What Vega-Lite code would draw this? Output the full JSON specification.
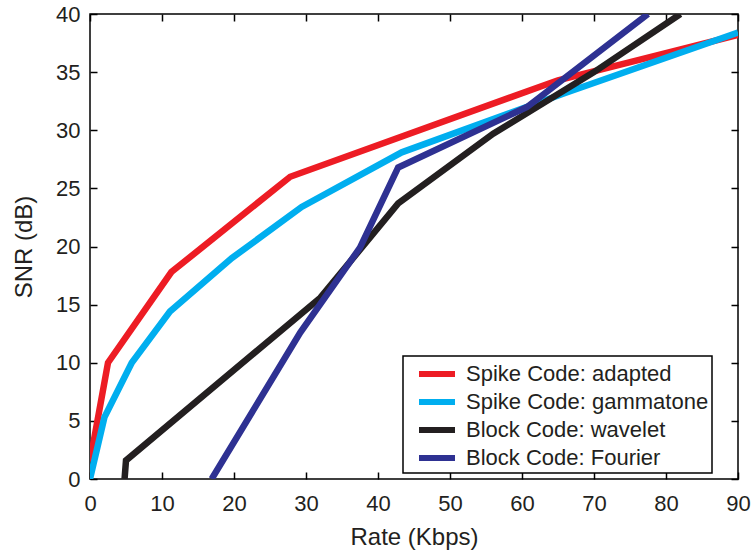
{
  "$schema": "https://vega.github.io/schema/vega-lite/v6.json",
  "width": 648,
  "height": 465,
  "autosize": "none",
  "padding": {"left": 90, "top": 14, "right": 17, "bottom": 75},
  "background": "white",
  "config": {
    "font": "Liberation Sans",
    "view": {"stroke": "black", "strokeWidth": 1.5},
    "axis": {"grid": false, "domain": false, "labelFont": "Liberation Sans", "titleFont": "Liberation Sans", "labelColor": "#231F20", "titleColor": "#231F20", "titleFontWeight": "normal", "tickColor": "black", "tickWidth": 1.5},
    "legend": {"strokeWidth": 1.5}
  },
  "data": {
    "values": [
      {"series": "Spike Code: adapted", "rate": 0, "snr": 1.5},
      {"series": "Spike Code: adapted", "rate": 2.5, "snr": 10},
      {"series": "Spike Code: adapted", "rate": 11.3, "snr": 17.8},
      {"series": "Spike Code: adapted", "rate": 27.8, "snr": 26},
      {"series": "Spike Code: adapted", "rate": 65, "snr": 34.3},
      {"series": "Spike Code: adapted", "rate": 90, "snr": 38.2},
      {"series": "Spike Code: gammatone", "rate": 0, "snr": 0},
      {"series": "Spike Code: gammatone", "rate": 2, "snr": 5.3},
      {"series": "Spike Code: gammatone", "rate": 5.8, "snr": 10},
      {"series": "Spike Code: gammatone", "rate": 11.1, "snr": 14.4},
      {"series": "Spike Code: gammatone", "rate": 19.7, "snr": 19},
      {"series": "Spike Code: gammatone", "rate": 29.4, "snr": 23.4},
      {"series": "Spike Code: gammatone", "rate": 43.3, "snr": 28.1},
      {"series": "Spike Code: gammatone", "rate": 66, "snr": 33.2},
      {"series": "Spike Code: gammatone", "rate": 90, "snr": 38.4},
      {"series": "Block Code: wavelet", "rate": 4.8, "snr": 0},
      {"series": "Block Code: wavelet", "rate": 5, "snr": 1.6},
      {"series": "Block Code: wavelet", "rate": 32, "snr": 15.6},
      {"series": "Block Code: wavelet", "rate": 42.8, "snr": 23.7},
      {"series": "Block Code: wavelet", "rate": 56, "snr": 29.7},
      {"series": "Block Code: wavelet", "rate": 70, "snr": 35},
      {"series": "Block Code: wavelet", "rate": 82, "snr": 40},
      {"series": "Block Code: Fourier", "rate": 16.9, "snr": 0},
      {"series": "Block Code: Fourier", "rate": 29.2, "snr": 12.6},
      {"series": "Block Code: Fourier", "rate": 37.5, "snr": 19.9},
      {"series": "Block Code: Fourier", "rate": 42.8, "snr": 26.8},
      {"series": "Block Code: Fourier", "rate": 60.7, "snr": 32},
      {"series": "Block Code: Fourier", "rate": 77.5, "snr": 40}
    ]
  },
  "layer": [
    {
      "mark": {"type": "line", "strokeWidth": 6.5, "strokeCap": "butt", "strokeJoin": "miter", "clip": true},
      "encoding": {
        "x": {"field": "rate", "type": "quantitative", "scale": {"domain": [0, 90], "nice": false},
          "axis": {"orient": "bottom", "title": "Rate (Kbps)", "values": [0,10,20,30,40,50,60,70,80,90], "ticks": true, "tickSize": -7, "tickColor": "black", "labelFontSize": 22, "titleFontSize": 24, "labelPadding": 21, "titlePadding": 11, "labelFlush": false}},
        "y": {"field": "snr", "type": "quantitative", "scale": {"domain": [0, 40], "nice": false},
          "axis": {"orient": "left", "title": "SNR (dB)", "values": [0,5,10,15,20,25,30,35,40], "ticks": true, "tickSize": -7, "tickColor": "black", "labelFontSize": 22, "titleFontSize": 24, "labelPadding": 17, "titlePadding": 19, "labelFlush": false}},
        "color": {"field": "series", "type": "nominal",
          "scale": {"domain": ["Spike Code: adapted", "Spike Code: gammatone", "Block Code: wavelet", "Block Code: Fourier"], "range": ["#ED1C24", "#00AEEF", "#231F20", "#2E3192"]},
          "legend": {"title": null, "orient": "none", "legendX": 313, "legendY": 342, "symbolType": "M-0.1667,0H2.8333", "symbolSize": 576, "symbolStrokeWidth": 6, "labelFontSize": 22, "labelFont": "Liberation Sans", "labelColor": "#231F20", "labelOffset": 30, "strokeColor": "black", "fillColor": "white", "padding": 3, "rowPadding": 1, "labelLimit": 400}},
        "order": {"field": "rate", "type": "quantitative"}
      }
    },
    {
      "mark": {"type": "line", "opacity": 0},
      "encoding": {
        "x": {"field": "rate", "type": "quantitative", "axis": {"orient": "top", "title": null, "labels": false, "domain": false, "values": [0,10,20,30,40,50,60,70,80,90], "ticks": true, "tickSize": -7, "tickColor": "black"}},
        "y": {"field": "snr", "type": "quantitative", "axis": {"orient": "right", "title": null, "labels": false, "domain": false, "values": [0,5,10,15,20,25,30,35,40], "ticks": true, "tickSize": -7, "tickColor": "black"}},
        "detail": {"field": "series"}
      }
    }
  ],
  "resolve": {"axis": {"x": "independent", "y": "independent"}}
}
